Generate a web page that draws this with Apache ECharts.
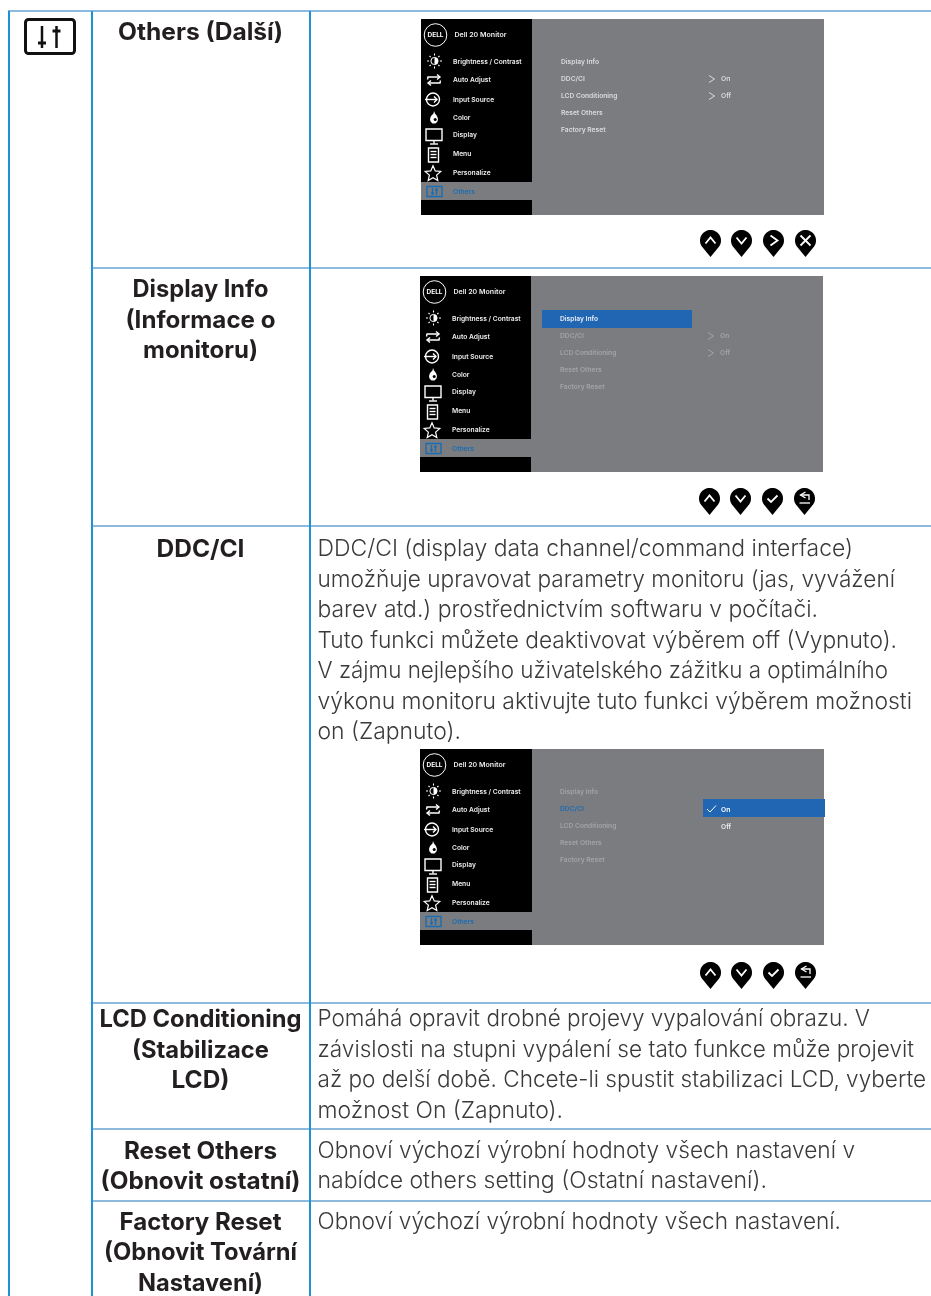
<!DOCTYPE html>
<html><head><meta charset="utf-8">
<style>html,body{margin:0;padding:0;background:#fff}#c{width:931px;height:1296px}</style>
<script src="https://cdn.jsdelivr.net/npm/echarts@6/dist/echarts.min.js"></script>
</head><body><div id="c"></div>
<script>
const headings = [
  ['Others (Další)'],
  ['Display Info','(Informace o','monitoru)'],
  ['DDC/CI'],
  ['LCD Conditioning','(Stabilizace','LCD)'],
  ['Reset Others','(Obnovit ostatní)'],
  ['Factory Reset','(Obnovit Tovární','Nastavení)']
];
const ddcText = [
  'DDC/CI (display data channel/command interface)',
  'umožňuje upravovat parametry monitoru (jas, vyvážení',
  'barev atd.) prostřednictvím softwaru v počítači.',
  'Tuto funkci můžete deaktivovat výběrem off (Vypnuto).',
  'V zájmu nejlepšího uživatelského zážitku a optimálního',
  'výkonu monitoru aktivujte tuto funkci výběrem možnosti',
  'on (Zapnuto).'
];
const lcdText = [
  'Pomáhá opravit drobné projevy vypalování obrazu. V',
  'závislosti na stupni vypálení se tato funkce může projevit',
  'až po delší době. Chcete-li spustit stabilizaci LCD, vyberte',
  'možnost On (Zapnuto).'
];
const resetText = [
  'Obnoví výchozí výrobní hodnoty všech nastavení v',
  'nabídce others setting (Ostatní nastavení).'
];
const factoryText = ['Obnoví výchozí výrobní hodnoty všech nastavení.'];
const osdTitle = 'Dell 20 Monitor';
const sideItems = ['Brightness / Contrast','Auto Adjust','Input Source','Color','Display','Menu','Personalize','Others'];
const subItems = ['Display Info','DDC/CI','LCD Conditioning','Reset Others','Factory Reset'];
const onOff = ['On','Off'];

const FONT = 'Inter, "Noto Sans", sans-serif';
const BLUE = '#2166b3', LINK='#1b6db3', GRAY='#7b7c80', DIM='#a3a4a7', LIGHT='#dcdcdd';
const g = [];
const mctx = document.createElement('canvas').getContext('2d');
const rect=(x,y,w,h,fill)=>({type:'rect',shape:{x,y,width:w,height:h},style:{fill}});
function txt(x,y,text,size,weight,fill,align,targetW){
  const el={type:'text',x,y,style:{text,fontSize:size,fontWeight:weight,fontFamily:FONT,fill,align:align||'left',verticalAlign:'middle'}};
  if(targetW){
    mctx.font=weight+' '+size+'px '+FONT;
    el.scaleX=targetW/mctx.measureText(text).width;
  }
  return el;
}
const stroke=(pts,color,w)=>({type:'polyline',shape:{points:pts},style:{stroke:color,lineWidth:w,fill:null}});
const poly=(pts,st)=>({type:'polygon',shape:{points:pts},style:st});

// table rules
const RULE='#8cb9de', VR='#1f92d2';
g.push(rect(8,10,923,2,RULE));
[[92,267],[92,525],[92,1002],[92,1128],[92,1200]].forEach(r=>g.push(rect(r[0],r[1],839,2,RULE)));
[8,91,309].forEach(x=>g.push(rect(x,11,2,1285,VR)));

// top-left icon
g.push({type:'rect',shape:{x:25.5,y:19.5,width:49,height:34,r:3},style:{fill:'#fff',stroke:'#111',lineWidth:3}});
g.push(stroke([[42,26],[42,48]],'#111',2.5),stroke([[38,43],[46,43]],'#111',3),stroke([[56.5,26],[56.5,48]],'#111',2.5),stroke([[52.5,31],[60.5,31]],'#111',3));

// headings
const headY=[[32],[289,320,350],[549],[1019,1050,1080],[1151,1181],[1222,1252,1283]];
const headW=[[165],[136,150,115],[88],[202,137,58],[153,200],[162,193,125]];
headings.forEach((ls,i)=>ls.forEach((t,j)=>g.push(txt(200.5,headY[i][j]+0.5,t,24,700,'#231f20','center',headW[i][j]))));
// body
const bodyC='#3a3a3c';
[[ddcText,[549,580,610,641,671,702,732],[853,895,818,897,888,912,461]],
 [lcdText,[1019,1050,1080,1111],[870,914,926,563]],
 [resetText,[1151,1181],[855,767]],
 [factoryText,[1222],[841]]]
 .forEach(([ls,ys,rs])=>ls.forEach((t,j)=>g.push(txt(317.5,ys[j]+0.5,t,23,300,bodyC,'left',rs[j]-317.5))));

// sidebar icons
function icon(i,cx,cy,c){
  const s=c||'#fff', L=[], W=1.4;
  const line=(a)=>stroke(a.map(p=>[cx+p[0],cy+p[1]]),s,W);
  if(i===0){
    cx+=1;
    L.push({type:'circle',shape:{cx,cy,r:3.6},style:{fill:'#000',stroke:'#fff',lineWidth:1}},
      {type:'sector',shape:{cx,cy,r:3.6,r0:0,startAngle:Math.PI/2,endAngle:Math.PI*1.5,clockwise:false},style:{fill:'#fff'}});
    [[-7.5,0,-5.5,0],[5.5,0,7.5,0],[0,-7.5,0,-5.5],[0,5.5,0,7.5],[-5,-5,-3.8,-3.8],[5,-5,3.8,-3.8],[-5,5,-3.8,3.8],[5,5,3.8,3.8]]
      .forEach(a=>L.push(stroke([[cx+a[0],cy+a[1]],[cx+a[2],cy+a[3]]],s,1.1)));
  } else if(i===1){
    cy+=1; cx+=.5;
    L.push(line([[-6.5,-.5],[-6,-3],[6,-3]]),line([[3,-5.5],[6,-3],[3,-.5]]),line([[6.5,.5],[6,3],[-6,3]]),line([[-3,.5],[-6,3],[-3,5.5]]));
  } else if(i===2){
    cy+=.5; cx-=.5;
    L.push({type:'circle',shape:{cx,cy,r:6.5},style:{fill:null,stroke:s,lineWidth:1.4}},line([[-8,0],[4,0]]),line([[1,-3],[4,0],[1,3]]));
  } else if(i===3){
    cy+=.5; cx+=.5;
    L.push(poly([[0,-6.5],[1,-4],[3,-1.5],[4,1.5],[3.5,4],[1.5,6],[-1.5,6],[-3.5,4],[-4,1.5],[-3,-1.5],[-0.5,-4]].map(p=>[cx+p[0],cy+p[1]]),{fill:'#fff'}),{type:'circle',shape:{cx:cx+1.2,cy:cy+2,r:1.5},style:{fill:'#000'}});
  } else if(i===4){
    cy+=2.5; cx+=.5;
    L.push({type:'rect',shape:{x:cx-8,y:cy-7.5,width:16,height:11.5},style:{fill:null,stroke:s,lineWidth:W}},line([[0,4],[0,7]]),line([[-4,7.5],[4,7.5]]));
  } else if(i===5){
    cy+=2;
    L.push({type:'rect',shape:{x:cx-5,y:cy-7,width:10,height:14},style:{fill:null,stroke:s,lineWidth:W}},line([[-3,-3.5],[3,-3.5]]),line([[-3,-.5],[3,-.5]]),line([[-3,2.5],[3,2.5]]));
  } else if(i===6){
    cy+=2; cx-=.5;
    const pts=[];for(let k=0;k<10;k++){const r=k%2?3.8:8.2,a=-Math.PI/2+k*Math.PI/5;pts.push([cx+r*Math.cos(a),cy+r*Math.sin(a)]);}
    L.push(poly(pts,{fill:null,stroke:s,lineWidth:1.2}));
  } else {
    cy+=.5; cx+=1;
    L.push({type:'rect',shape:{x:cx-7.5,y:cy-5,width:15,height:10},style:{fill:null,stroke:s,lineWidth:W}},line([[-2,-3.5],[-2,3.5]]),line([[-3.5,1.5],[-.5,1.5]]),line([[2,-3.5],[2,3.5]]),line([[.5,-1.5],[3.5,-1.5]]));
  }
  return L;
}
const sideDy=[42,60,80,98,115,134,153,172];
const subDy=[42,59,76,93,110];
const tOff=1;
function osd(px,py,sw,w,cfg){
  g.push(rect(px,py,w,196,GRAY),rect(px,py,sw,196,'#000'),rect(px,py+163,sw,18,GRAY));
  g.push({type:'circle',shape:{cx:px+14.5,cy:py+16,r:11.3},style:{fill:null,stroke:'#fff',lineWidth:1}});
  g.push(txt(px+14.5,py+16,'DELL',6.5,700,'#fff','center'));
  g.push(txt(px+33.5,py+16,osdTitle,6.5,600,'#eee','left',52));
  sideItems.forEach((t,i)=>{
    const last=i===7;
    g.push(...icon(i,px+12.5,py+sideDy[i],last?LINK:'#fff'));
    g.push(txt(px+32,py+sideDy[i]+tOff,t,6.7,600,last?LINK:'#eee'));
  });
  if(cfg.selRect) g.push(rect(px+cfg.selRect[0],py+cfg.selRect[1],cfg.selRect[2],18,BLUE));
  subItems.forEach((t,i)=>{
    let c=cfg.sub; if(i===cfg.activeSub) c=cfg.activeColor;
    g.push(txt(px+140,py+subDy[i]+tOff,t,6.7,600,c));
  });
  cfg.vals&&cfg.vals.forEach((v,i)=>{
    const y=py+subDy[i+1]+tOff, x=px+288;
    g.push(stroke([[x,y-3.5],[x+5.5,y],[x,y+3.5]],cfg.sub,1));
    g.push(txt(x+12,y,v,6.7,600,cfg.sub));
  });
}
osd(421,19,111,403,{sub:LIGHT,activeSub:-1,vals:onOff});
osd(420,276,111,403,{sub:DIM,activeSub:0,activeColor:'#e8eef7',selRect:[122,34,150],vals:onOff});
osd(420,749,112,404,{sub:DIM,activeSub:1,activeColor:LINK,selRect:[283,50,122]});
g.push(stroke([[707,809],[710,812],[716,805.5]],'#fff',1));
g.push(txt(721,809.5,onOff[0],6.7,600,'#fff'),txt(721,826.5,onOff[1],6.7,600,'#eee'));

// pin buttons
function pin(x,y,kind){
  const cx=x+10.5, cy=y+10.5, pts=[];
  for(let a=145;a<=395;a+=10){const r=a*Math.PI/180;pts.push([cx+10.5*Math.cos(r),cy+10.5*Math.sin(r)]);}
  pts.push([cx,y+27]);
  g.push(poly(pts,{fill:'#000'}));
  const P=a=>stroke(a.map(p=>[cx+p[0],cy+p[1]]),'#fff',1.8);
  if(kind==='up') g.push(P([[-5,3],[0,-3],[5,3]]));
  if(kind==='down') g.push(P([[-5,-3],[0,3],[5,-3]]));
  if(kind==='right') g.push(P([[-3,-5],[4,0],[-3,5]]));
  if(kind==='x') g.push(P([[-5,-5],[5,5]]),P([[-5,5],[5,-5]]));
  if(kind==='ok') g.push(P([[-5,0],[-1.5,3.5],[5,-3]]));
  if(kind==='back'){
    const Q=a=>stroke(a.map(p=>[cx+p[0],cy+p[1]]),'#fff',1.3);
    g.push(Q([[1,-6.5],[-4,-3.5],[1,-.5]]),Q([[-4,-3.5],[4.5,-3.5],[4.5,1.5]]),Q([[-5,4.5],[5.5,4.5]]));
  }
}
[[700,230,'up'],[731,230,'down'],[763,230,'right'],[795,230,'x'],
 [699,488,'up'],[730,488,'down'],[762,488,'ok'],[794,488,'back'],
 [700,962,'up'],[731,962,'down'],[763,962,'ok'],[795,962,'back']].forEach(p=>pin(...p));

const chart=echarts.init(document.getElementById('c'),null,{renderer:'canvas'});
chart.setOption({animation:false,backgroundColor:'#fff',graphic:{elements:g.map(e=>Object.assign({silent:true},e))}});
</script></body></html>
